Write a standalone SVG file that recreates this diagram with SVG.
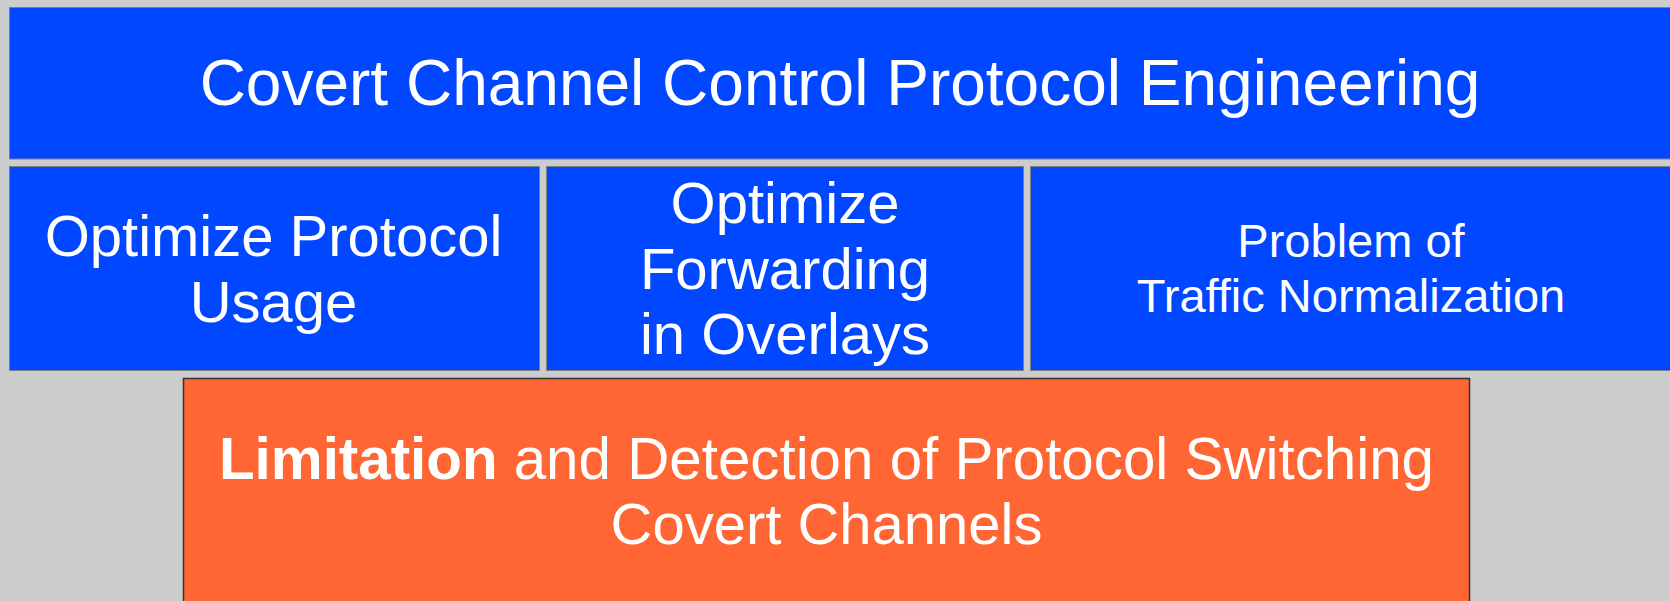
<svg xmlns="http://www.w3.org/2000/svg" width="1670" height="601" viewBox="0 0 1670 601">
<style>
.blue{fill:#0047ff;stroke:#7f7f7f;stroke-width:1}
.orange{fill:#ff6633;stroke:#333333;stroke-width:1.5}
text{font-family:"Liberation Sans",Arial,sans-serif;fill:#ffffff;text-anchor:middle}
.b{font-weight:bold}
</style>
<rect x="0" y="0" width="1670" height="601" fill="#cccccc"/>
<g id="top">
<rect class="blue" x="9.5" y="7.5" width="1680" height="151.5"/>
<text x="840" y="105" font-size="64">Covert Channel Control Protocol Engineering</text>
</g>
<g id="protocol-usage">
<rect class="blue" x="9.5" y="166.5" width="530" height="204"/>
<text x="273.5" y="256" font-size="58">Optimize Protocol</text>
<text x="273.5" y="322" font-size="58">Usage</text>
</g>
<g id="forwarding">
<rect class="blue" x="546.5" y="166.5" width="477" height="204"/>
<text x="785" y="223" font-size="58">Optimize</text>
<text x="785" y="289" font-size="58">Forwarding</text>
<text x="785" y="354" font-size="58">in Overlays</text>
</g>
<g id="normalization">
<rect class="blue" x="1030.5" y="166.5" width="700" height="204"/>
<text x="1351" y="257" font-size="47">Problem of</text>
<text x="1351" y="311.5" font-size="47">Traffic Normalization</text>
</g>
<g id="limitation">
<rect class="orange" x="183.5" y="378.5" width="1286" height="250"/>
<text x="826.5" y="479" font-size="58.3"><tspan class="b">Limitation</tspan> and Detection of Protocol Switching</text>
<text x="826.5" y="544" font-size="58">Covert Channels</text>
</g>
<g id="connectors"></g>
</svg>
